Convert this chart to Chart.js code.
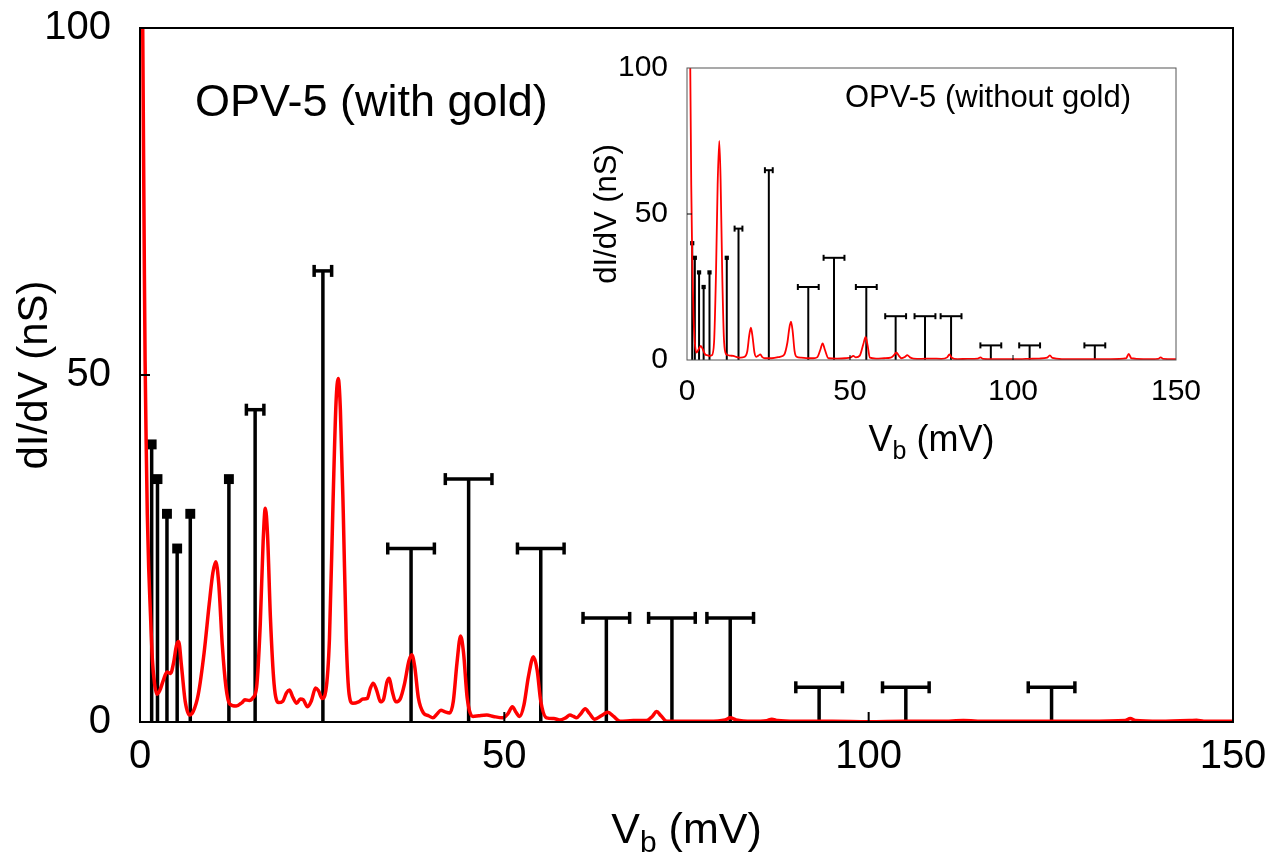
<!DOCTYPE html>
<html>
<head>
<meta charset="utf-8">
<script src="https://cdn.jsdelivr.net/npm/chart.js@4/dist/chart.umd.min.js"></script>
<style>
  html, body { margin: 0; padding: 0; background: #fff; }
  #wrap { position: relative; width: 1275px; height: 857px; }
  #mainBox { position: absolute; left: 0; top: 0; width: 1275px; height: 857px; }
  #insetBox { position: absolute; left: 580px; top: 45px; width: 635px; height: 425px; }
</style>
</head>
<body>
<div id="wrap">
  <div id="mainBox"><canvas id="mainChart"></canvas></div>
  <div id="insetBox"><canvas id="insetChart"></canvas></div>
</div>
<script>
// dI/dV curve, OPV-5 with gold (mV, nS)
const mainVb = [0.3, 0.45, 0.6, 0.7, 0.85, 1.0, 1.2, 1.4, 1.7, 2.0, 2.3, 2.7, 3.2, 3.7, 4.2, 4.6, 5.0, 5.3, 5.7, 6.2,
  6.8, 7.3, 8.0, 8.8, 9.5, 10.0, 10.4, 10.8, 11.3, 11.8, 12.3, 13.2, 14.0, 14.4, 15.0, 15.5, 16.0, 16.5, 16.9, 17.2,
  17.5, 17.9, 18.4, 19.0, 19.6, 20.1, 20.5, 21.0, 21.5, 22.0, 22.4, 23.0, 23.5, 24.1, 24.5, 25.0, 25.5, 26.0, 26.5, 26.9,
  27.2, 27.5, 27.9, 28.3, 28.7, 29.2, 30.0, 30.6, 31.2, 31.6, 32.0, 32.5, 33.0, 33.4, 33.9, 34.2, 34.6, 35.1, 35.7, 36.3,
  36.9, 37.3, 37.7, 38.2, 38.9, 39.6, 40.2, 40.8, 41.3, 41.8, 42.5, 43.0, 43.5, 44.0, 44.4, 44.9, 45.7, 46.5, 47.6, 48.5,
  49.8, 50.5, 51.1, 51.6, 52.1, 52.7, 53.3, 54.0, 54.5, 55.0, 55.8, 56.8, 57.6, 58.4, 59.0, 59.5, 59.9, 60.5, 61.1, 61.7,
  62.4, 63.3, 64.2, 65.0, 65.9, 67.7, 69.5, 70.3, 70.9, 71.5, 72.3, 75, 78, 80.3, 81.0, 81.8, 84, 86.0, 86.7, 87.5,
  90, 95, 100, 105, 110, 113, 116, 120, 130, 135.2, 135.9, 136.6, 140, 144, 145, 146, 150];
const mainG = [112, 88, 65, 52, 40, 30, 22, 16.5, 9, 5.5, 4.0, 4.5, 6, 7.2, 7, 8.5, 11, 11.6, 8, 3,
  1.0, 1.5, 4, 10, 17, 21.5, 23.1, 20, 11, 5, 2.6, 2.3, 2.8, 3.2, 3.1, 3.5, 5, 14, 26, 30.8,
  27, 15, 5.5, 2.8, 3.0, 4.2, 4.6, 3.5, 2.7, 3.3, 3.2, 2.2, 3.0, 4.9, 4.5, 3.4, 4.5, 12, 32, 46,
  49.5, 45, 30, 12, 4, 2.7, 2.9, 3.3, 3.4, 4.8, 5.6, 4.5, 2.9, 3.2, 5.8, 6.3, 4.5, 2.9, 3.3, 5.5,
  8.8, 9.7, 8, 3.5, 1.3, 0.9, 0.6, 1.2, 1.7, 1.5, 1.3, 3, 8.5, 12.4, 10, 3.5, 0.8, 0.9, 1.0, 0.8,
  0.6, 1.2, 2.2, 1.4, 0.8, 2.5, 6.5, 9.4, 7.5, 3, 0.6, 0.5, 0.3, 0.6, 1.0, 0.8, 0.6, 1.2, 1.9, 1.2,
  0.4, 0.9, 1.4, 0.8, 0.1, 0.2, 0.2, 0.8, 1.5, 0.9, 0.1, 0.1, 0.1, 0.3, 0.6, 0.3, 0.1, 0.2, 0.4, 0.2,
  0.1, 0.1, 0.05, 0.1, 0.1, 0.2, 0.1, 0.1, 0.1, 0.2, 0.5, 0.2, 0.1, 0.2, 0.25, 0.1, 0.1];

// dI/dV curve, OPV-5 without gold
const insetVb = [0.5, 1.0, 1.3, 1.6, 2.0, 2.4, 2.9, 3.5, 4.2, 4.9, 5.5, 6.3, 7.0, 7.6, 8.3, 8.9, 9.4, 9.9, 10.3, 10.8,
  11.3, 11.8, 12.4, 13.3, 14.2, 15.3, 16.5, 17.5, 18.5, 19.1, 19.6, 20.1, 20.7, 21.2, 21.9, 22.5, 23.1, 23.9, 26, 28.5,
  29.8, 30.8, 31.4, 31.9, 32.4, 33.0, 33.6, 35, 37, 38.7, 40.0, 40.9, 41.6, 42.3, 43.4, 46, 48.5, 50.2, 51.0, 51.8,
  53.0, 54.1, 54.8, 55.4, 56.1, 58, 60.5, 62.5, 63.6, 64.2, 64.9, 65.8, 66.8, 67.6, 68.4, 69.5, 72, 75, 78, 79.8,
  80.5, 81.2, 83, 86, 89.2, 90.0, 90.8, 94, 98, 102, 105, 108, 110.5, 111.3, 112.1, 115, 120, 125, 130, 134.7,
  135.5, 136.3, 140, 144.5, 145.3, 146.1, 150];
const insetG = [130, 100, 60, 35, 15, 6, 2.5, 3.5, 4.8, 3.5, 2.0, 1.6, 1.4, 1.6, 6, 30, 60, 75, 62, 30,
  8, 2.5, 1.7, 1.5, 1.4, 1.0, 0.8, 1.0, 3, 8.5, 11.1, 8, 2.5, 1.1, 1.5, 1.9, 1.0, 0.6, 0.6, 1.1,
  1.8, 6, 11, 13.1, 10, 3, 1.1, 0.8, 0.6, 0.6, 1.0, 3.5, 5.7, 3.5, 0.6, 0.5, 0.6, 0.9, 1.4, 0.9,
  1.5, 5.5, 7.9, 5, 0.8, 0.5, 0.6, 0.8, 1.8, 2.6, 1.6, 0.6, 1.0, 1.7, 0.9, 0.5, 0.4, 0.5, 0.4, 0.9,
  1.9, 0.8, 0.3, 0.4, 0.5, 0.9, 0.4, 0.3, 0.3, 0.3, 0.4, 0.5, 0.8, 1.6, 0.7, 0.3, 0.3, 0.3, 0.3, 0.6,
  2.1, 0.6, 0.3, 0.4, 0.9, 0.4, 0.3];

// calculated levels (sticks) with horizontal error bars
const stickVb  = [1.6, 2.4, 3.7, 5.1, 6.9, 12.2, 15.8, 25.1, 37.2, 45.1, 55.0, 64.0, 73.0, 81.0, 93.2, 105.1, 125.1];
const stickG   = [40, 35, 30, 25, 30, 35, 45, 65, 25, 35, 25, 15, 15, 15, 5, 5, 5];
const stickErr = [0, 0, 0, 0, 0, 0, 1.2, 1.2, 3.2, 3.2, 3.2, 3.2, 3.2, 3.2, 3.2, 3.2, 3.2];

const xTicks = [0, 50, 100, 150];
const yTicks = [0, 50, 100];
const xTickMarks = [50, 100];
const yTickMarks = [50];

const FONT = '"Liberation Sans", Arial, Helvetica, sans-serif';

function buildDatasets(curveX, curveY, st) {
    const sets = [{
        data: curveX.map((x, i) => ({ x, y: curveY[i] })),
        borderColor: '#ff0000',
        borderWidth: st.curveWidth,
        pointRadius: 0,
        cubicInterpolationMode: 'monotone',
        clip: 0,
    }];
    stickVb.forEach((x, i) => {
        const h = stickG[i];
        sets.push({
            data: [{ x, y: 0 }, { x, y: h }],
            borderColor: '#000',
            borderWidth: st.stickWidth,
            pointRadius: 0,
            clip: 0,
        });
        if (stickErr[i] > 0) {
            sets.push({
                data: [{ x: x - stickErr[i], y: h }, { x: x + stickErr[i], y: h }],
                borderColor: '#000',
                borderWidth: st.stickWidth,
                pointStyle: 'line',
                rotation: 90,
                pointRadius: st.capRadius,
                pointBorderWidth: st.stickWidth,
                pointBorderColor: '#000',
                clip: 0,
            });
        } else {
            sets.push({
                data: [{ x, y: h }],
                showLine: false,
                pointStyle: 'rect',
                pointRadius: st.boxRadius,
                pointBackgroundColor: '#000',
                pointBorderColor: '#000',
                pointBorderWidth: 0,
                clip: 0,
            });
        }
    });
    return sets;
}

function decorPlugin(st) {
    return {
        id: 'decor',
        afterDraw(chart) {
            const { ctx, chartArea: a } = chart;
            const sx = chart.scales.x, sy = chart.scales.y;
            ctx.save();
            ctx.strokeStyle = st.frameColor;
            ctx.lineWidth = st.frameWidth;
            ctx.strokeRect(a.left, a.top, a.right - a.left, a.bottom - a.top);
            ctx.strokeStyle = '#000';
            ctx.lineWidth = st.tickWidth;
            ctx.beginPath();
            xTickMarks.forEach((v) => {
                const p = sx.getPixelForValue(v);
                ctx.moveTo(p, a.bottom);
                ctx.lineTo(p, a.bottom - st.tickLen);
            });
            yTickMarks.forEach((v) => {
                const p = sy.getPixelForValue(v);
                ctx.moveTo(a.left, p);
                ctx.lineTo(a.left + st.tickLen, p);
            });
            ctx.stroke();

            // x-axis title with subscript
            ctx.fillStyle = '#000';
            ctx.textBaseline = 'alphabetic';
            ctx.textAlign = 'left';
            const big = `${st.xTitleSize}px ${FONT}`;
            const small = `${Math.round(st.xTitleSize * 0.7)}px ${FONT}`;
            ctx.font = big;
            const w1 = ctx.measureText('V').width;
            const w3 = ctx.measureText(' (mV)').width;
            ctx.font = small;
            const w2 = ctx.measureText('b').width;
            let tx = (a.left + a.right) / 2 - (w1 + w2 + w3) / 2;
            const ty = a.bottom + st.xTitleDy;
            ctx.font = big;
            ctx.fillText('V', tx, ty);
            tx += w1;
            ctx.font = small;
            ctx.fillText('b', tx, ty + st.xTitleSize * 0.22);
            tx += w2;
            ctx.font = big;
            ctx.fillText(' (mV)', tx, ty);

            // panel label
            ctx.font = `${st.labelSize}px ${FONT}`;
            ctx.fillText(st.label, a.left + st.labelDx, a.top + st.labelDy);
            ctx.restore();
        }
    };
}

function makeChart(canvasId, curveX, curveY, st) {
    return new Chart(document.getElementById(canvasId), {
        type: 'line',
        data: { datasets: buildDatasets(curveX, curveY, st) },
        options: {
            responsive: true,
            maintainAspectRatio: false,
            animation: false,
            events: [],
            layout: { padding: { top: st.padTop, right: st.padRight, left: 0, bottom: 0 } },
            plugins: { legend: { display: false }, tooltip: { enabled: false } },
            scales: {
                x: {
                    type: 'linear', min: 0, max: 150,
                    afterFit: (s) => { s.height = st.xAxisH; s.paddingLeft = 0; s.paddingRight = 0; },
                    afterBuildTicks: (s) => { s.ticks = xTicks.map((v) => ({ value: v })); },
                    grid: { display: false, drawTicks: false },
                    border: { display: false },
                    ticks: { color: '#000', padding: st.xTickPad, maxRotation: 0, font: { family: FONT, size: st.tickSize } },
                },
                y: {
                    type: 'linear', min: 0, max: 100,
                    afterFit: (s) => { s.width = st.yAxisW; s.paddingTop = 0; s.paddingBottom = 0; },
                    afterBuildTicks: (s) => { s.ticks = yTicks.map((v) => ({ value: v })); },
                    grid: { display: false, drawTicks: false },
                    border: { display: false },
                    ticks: { color: '#000', padding: st.yTickPad, font: { family: FONT, size: st.tickSize } },
                    title: {
                        display: true, text: 'dI/dV (nS)', color: '#000',
                        padding: { top: st.yTitlePad, bottom: 0 },
                        font: { family: FONT, size: st.yTitleSize },
                    },
                },
            },
        },
        plugins: [decorPlugin(st)],
    });
}

makeChart('mainChart', mainVb, mainG, {
    curveWidth: 3.5, stickWidth: 3.5, capRadius: 6, boxRadius: 7,
    frameColor: '#000', frameWidth: 2, tickWidth: 2, tickLen: 10,
    padTop: 28, padRight: 42, xAxisH: 135, yAxisW: 140,
    tickSize: 40, xTickPad: 11, yTickPad: 29,
    yTitleSize: 42, yTitlePad: 10,
    xTitleSize: 43, xTitleDy: 121,
    label: 'OPV-5 (with gold)', labelSize: 45, labelDx: 55, labelDy: 88,
});

makeChart('insetChart', insetVb, insetG, {
    curveWidth: 1.8, stickWidth: 2, capRadius: 3, boxRadius: 3,
    frameColor: '#555', frameWidth: 1, tickWidth: 1, tickLen: 5,
    padTop: 23, padRight: 39, xAxisH: 110, yAxisW: 107,
    tickSize: 30, xTickPad: 14, yTickPad: 19,
    yTitleSize: 31, yTitlePad: 9,
    xTitleSize: 36, xTitleDy: 91,
    label: 'OPV-5 (without gold)', labelSize: 31, labelDx: 158, labelDy: 39,
});
</script>
</body>
</html>
